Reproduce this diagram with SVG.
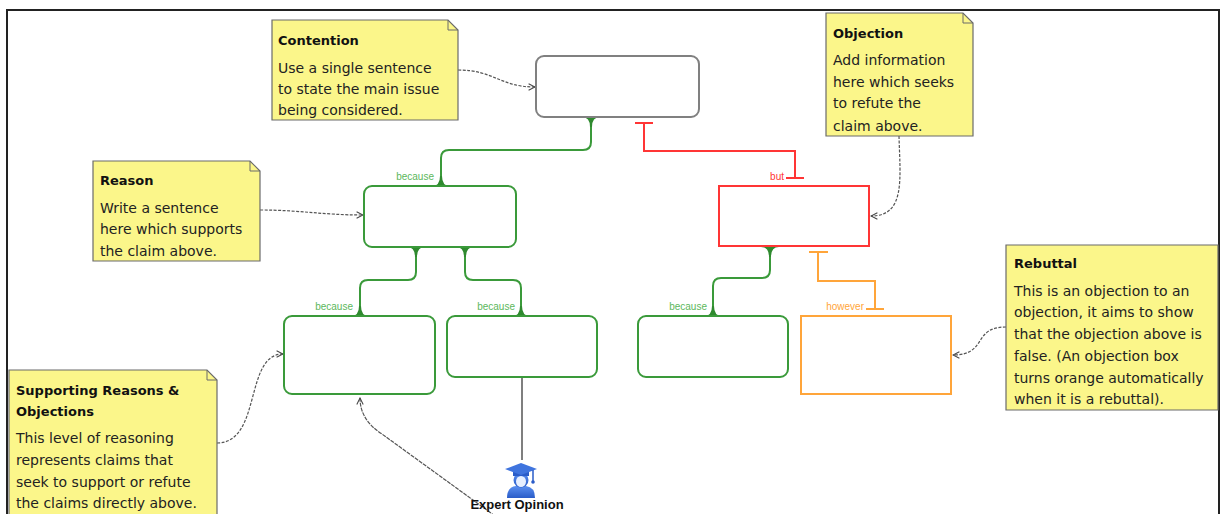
<svg xmlns="http://www.w3.org/2000/svg" width="1222" height="514" viewBox="0 0 1222 514">
<defs>
<style>
.note{fill:#fbf68a;stroke:#6b6b6b;stroke-width:1.2}
.fold{fill:none;stroke:#6b6b6b;stroke-width:1}
.nt{font-family:"DejaVu Sans",sans-serif;font-size:14px;fill:#222}
.nh{font-family:"DejaVu Sans",sans-serif;font-size:13px;font-weight:bold;fill:#111}
.gbox{fill:#fff;stroke:#3a9a3a;stroke-width:2}
.gc{fill:none;stroke:#3a9a3a;stroke-width:2}
.gf{fill:#2f8a2f}
.rc{fill:none;stroke:#ff3535;stroke-width:2}
.oc{fill:none;stroke:#ffa53a;stroke-width:2}
.lbl{font-family:"Liberation Sans",Arial,sans-serif;font-size:10px}
.dash{fill:none;stroke:#555;stroke-width:1.2;stroke-dasharray:3 1.5;marker-end:url(#open)}
</style>
<marker id="open" viewBox="0 0 10 10" refX="9" refY="5" markerWidth="8" markerHeight="8" markerUnits="userSpaceOnUse" orient="auto">
<path d="M1,1 L9,5 L1,9" fill="none" stroke="#444" stroke-width="1.3"/>
</marker>
<linearGradient id="blue" x1="0" y1="0" x2="0" y2="1">
<stop offset="0" stop-color="#5a8ff0"/>
<stop offset="1" stop-color="#2a5cc8"/>
</linearGradient>
</defs>
<rect width="1222" height="514" fill="#fff"/>
<rect x="7" y="10" width="1212" height="520" fill="none" stroke="#222" stroke-width="2"/>

<g id="connectors">
<path class="gc" d="M591,117 V142 Q591,150 583,150 H449 Q441,150 441,158 V186"/>
<path class="gf" d="M582,117 Q590,117 590,127 L592,127 Q592,117 600,117 Z"/>
<path class="gf" d="M432,186 Q440,186 440,176 L442,176 Q442,186 450,186 Z"/>
<path class="rc" d="M644,123 V151 H795 V178"/>
<path class="rc" d="M635,123 H653 M786,178 H804"/>
<text class="lbl" x="784" y="180" text-anchor="end" fill="#ff3535">but</text>
<text class="lbl" x="434" y="180" text-anchor="end" fill="#5cb85c">because</text>
<path class="gc" d="M416,247 V272 Q416,280 408,280 H368 Q360,280 360,288 V316"/>
<path class="gc" d="M465,247 V272 Q465,280 473,280 H513 Q521,280 521,288 V316"/>
<path class="gf" d="M407,247 Q415,247 415,257 L417,257 Q417,247 425,247 Z"/>
<path class="gf" d="M456,247 Q464,247 464,257 L466,257 Q466,247 474,247 Z"/>
<path class="gf" d="M351,316 Q359,316 359,306 L361,306 Q361,316 369,316 Z"/>
<path class="gf" d="M512,316 Q520,316 520,306 L522,306 Q522,316 530,316 Z"/>
<text class="lbl" x="353" y="310" text-anchor="end" fill="#5cb85c">because</text>
<text class="lbl" x="515" y="310" text-anchor="end" fill="#5cb85c">because</text>
<path class="gc" d="M770,247 V270 Q770,278 762,278 H721 Q713,278 713,286 V316"/>
<path class="gf" d="M761,247 Q769,247 769,257 L771,257 Q771,247 779,247 Z"/>
<path class="gf" d="M704,316 Q712,316 712,306 L714,306 Q714,316 722,316 Z"/>
<text class="lbl" x="707" y="310" text-anchor="end" fill="#5cb85c">because</text>
<path class="oc" d="M818,252 V281 H875 V309"/>
<path class="oc" d="M809,252 H828 M866,309 H884"/>
<text class="lbl" x="864" y="310" text-anchor="end" fill="#ffa53a">however</text>
<path d="M522,377 V460" stroke="#555" stroke-width="1.5" fill="none"/>
<path class="dash" d="M458,70 C494,70 500,87 535,87"/>
<path class="dash" d="M899,136 C900,178 906,216 871,216"/>
<path class="dash" d="M260,210 C300,210 322,215 363,215"/>
<path class="dash" d="M217,443 C262,443 244,354 283,354"/>
<path class="dash" d="M1006,327 C972,327 988,355 953,355"/>
<path d="M495,516 L382,434 Q360,420 360,398" fill="none" stroke="#555" stroke-width="1.2" stroke-dasharray="4 1" marker-end="url(#open)"/>
</g>

<g id="contention-box"><rect x="536" y="56" width="163" height="61" rx="8" fill="#fff" stroke="#808080" stroke-width="2"/></g>
<g id="reason-box"><rect class="gbox" x="364" y="186" width="152" height="61" rx="8"/></g>
<g id="objection-box"><rect x="719" y="186" width="150" height="60" fill="#fff" stroke="#ff3535" stroke-width="2"/></g>
<g id="support-box-1"><rect class="gbox" x="284" y="316" width="151" height="78" rx="8"/></g>
<g id="support-box-2"><rect class="gbox" x="447" y="316" width="150" height="61" rx="8"/></g>
<g id="support-box-3"><rect class="gbox" x="638" y="316" width="150" height="61" rx="8"/></g>
<g id="rebuttal-box"><rect x="801" y="316" width="150" height="78" fill="#fff" stroke="#ffa53a" stroke-width="2"/></g>

<g id="expert-opinion">
<path d="M507,498 Q507,487 516,486 L526,486 Q535,487 535,498 Z" fill="url(#blue)"/>
<circle cx="521" cy="480" r="7.5" fill="url(#blue)"/>
<ellipse cx="521" cy="481.5" rx="5" ry="5.5" fill="#e6efff"/>
<path d="M513,472 H529 V476 H513 Z" fill="#2a5cc8"/>
<path d="M505,469 L521,463 L537,469 L521,475 Z" fill="#3f74de"/>
<path d="M533,470 V481" stroke="#2a5cc8" stroke-width="1.5"/>
<circle cx="533" cy="482" r="1.8" fill="#2a5cc8"/>
<text x="517" y="509" text-anchor="middle" font-family="Liberation Sans,Arial,sans-serif" font-size="13" font-weight="bold" fill="#111">Expert Opinion</text>
</g>

<g id="note-contention">
<path class="note" d="M272,20 H448 L458,30 V120 H272 Z"/>
<path class="fold" d="M448,20 V30 H458"/>
<text class="nh" x="278" y="45">Contention</text>
<text class="nt" x="278" y="73">Use a single sentence</text>
<text class="nt" x="278" y="94">to state the main issue</text>
<text class="nt" x="278" y="115">being considered.</text>
</g>

<g id="note-objection">
<path class="note" d="M826,13 H963 L973,23 V136 H826 Z"/>
<path class="fold" d="M963,13 V23 H973"/>
<text class="nh" x="833" y="38">Objection</text>
<text class="nt" x="833" y="65">Add information</text>
<text class="nt" x="833" y="87">here which seeks</text>
<text class="nt" x="833" y="108">to refute the</text>
<text class="nt" x="833" y="131">claim above.</text>
</g>

<g id="note-reason">
<path class="note" d="M93,161 H250 L260,171 V261 H93 Z"/>
<path class="fold" d="M250,161 V171 H260"/>
<text class="nh" x="100" y="185">Reason</text>
<text class="nt" x="100" y="213">Write a sentence</text>
<text class="nt" x="100" y="234">here which supports</text>
<text class="nt" x="100" y="256">the claim above.</text>
</g>

<g id="note-supporting">
<path class="note" d="M9,370 H207 L217,380 V525 H9 Z"/>
<path class="fold" d="M207,370 V380 H217"/>
<text class="nh" x="16" y="395">Supporting Reasons &amp;</text>
<text class="nh" x="16" y="416">Objections</text>
<text class="nt" x="16" y="443">This level of reasoning</text>
<text class="nt" x="16" y="465">represents claims that</text>
<text class="nt" x="16" y="487">seek to support or refute</text>
<text class="nt" x="16" y="508">the claims directly above.</text>
</g>

<g id="note-rebuttal">
<path class="note" d="M1006,245 H1218 V410 H1006 Z"/>
<text class="nh" x="1014" y="268">Rebuttal</text>
<text class="nt" x="1014" y="296">This is an objection to an</text>
<text class="nt" x="1014" y="317">objection, it aims to show</text>
<text class="nt" x="1014" y="339">that the objection above is</text>
<text class="nt" x="1014" y="361">false. (An objection box</text>
<text class="nt" x="1014" y="383">turns orange automatically</text>
<text class="nt" x="1014" y="404">when it is a rebuttal).</text>
</g>
</svg>
